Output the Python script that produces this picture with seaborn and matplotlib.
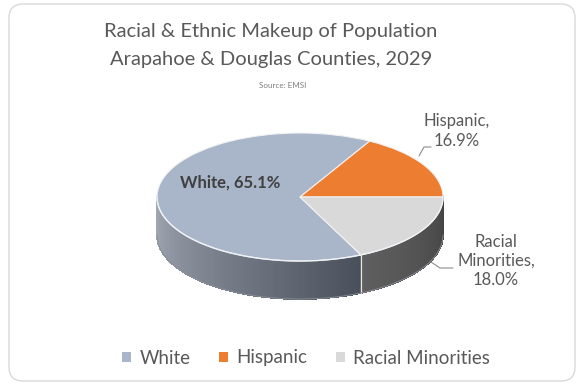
import numpy as np
import matplotlib
matplotlib.use("Agg")
import matplotlib.pyplot as plt
import matplotlib.colors as mcolors
from matplotlib.patches import FancyBboxPatch
from matplotlib.collections import PolyCollection
from matplotlib.transforms import IdentityTransform
import seaborn as sns

# ---- data -------------------------------------------------------------
categories = ["White", "Hispanic", "Racial Minorities"]
shares = [65.1, 16.9, 18.0]
top_colors = ["#A9B5C8", "#ED7D31", "#D9D9D9"]
side_colors = [("#A4ABB7", "#4A505B"), ("#B85C20", "#9A4914"), ("#5F5F5F", "#454545")]
title_lines = ["Racial & Ethnic Makeup of Population",
               "Arapahoe & Douglas Counties, 2029"]
source_note = "Source: EMSI"

# ---- figure -----------------------------------------------------------
W, H = 582, 387
sns.set_theme(style="white")
plt.rcParams["font.family"] = ["Lato", "DejaVu Sans"]

fig = plt.figure(figsize=(W / 100, H / 100), dpi=100)
fig.patch.set_facecolor("white")


def fpos(x, y):
    """pixel position (from top-left) -> figure fraction"""
    return x / W, 1 - y / H


# rounded card outline, kept underneath everything else
card = FancyBboxPatch((9, H - 381), 566, 377,
                      boxstyle="round,pad=0,rounding_size=14",
                      transform=IdentityTransform(), facecolor="white",
                      edgecolor="#D9D9D9", linewidth=1.0, zorder=-5)
fig.add_artist(card)

# ---- titles -----------------------------------------------------------
grey = "#595959"
fig.text(*fpos(271, 32), title_lines[0], ha="center", va="center",
         fontsize=14.5, color=grey)
fig.text(*fpos(271, 60), title_lines[1], ha="center", va="center",
         fontsize=14.5, color=grey)
fig.text(*fpos(283, 86), source_note, ha="center", va="center",
         fontsize=5.8, color="#7F7F7F")

# ---- tilted pie ---------------------------------------------------------
cx, cy, rx, ry = 300, 197, 143, 64          # ellipse centre/radii in pixels
depth = 38 / ry                              # extrusion height in data units

ax = fig.add_axes([0, 0, 1, 1])
ax.patch.set_alpha(0)
total = sum(shares)
start = -360 * shares[-1] / total
wedges, _ = ax.pie(shares, colors=top_colors, startangle=start,
                   counterclock=False, radius=1.0,
                   wedgeprops=dict(edgecolor="#F2F2F2", linewidth=0.8, zorder=3))
ax.set_aspect("auto")
ax.set_xlim(-cx / rx, (W - cx) / rx)
ax.set_ylim(-(H - cy) / ry, cy / ry)
ax.axis("off")

# side wall: only the front half (180..360 deg) is visible
for wedge, (c_left, c_right) in zip(wedges, side_colors):
    t1, t2 = wedge.theta1, wedge.theta2
    while t1 < 0:
        t1 += 360
        t2 += 360
    a, b = max(t1, 180), min(t2, 360)
    if b <= a:
        continue
    angles = np.radians(np.linspace(a, b, 120))
    c0 = np.array(mcolors.to_rgb(c_left))
    c1 = np.array(mcolors.to_rgb(c_right))
    quads, cols = [], []
    for i in range(len(angles) - 1):
        th0, th1 = angles[i], angles[i + 1]
        f = i / (len(angles) - 2)
        quads.append([(np.cos(th0), np.sin(th0)), (np.cos(th1), np.sin(th1)),
                      (np.cos(th1), np.sin(th1) - depth),
                      (np.cos(th0), np.sin(th0) - depth)])
        cols.append(c0 * (1 - f) + c1 * f)
    ax.add_collection(PolyCollection(quads, facecolors=cols, edgecolors=cols,
                                     linewidths=0.6, antialiaseds=False, zorder=1))
    # light seam where slices meet on the wall
    for edge in (a, b):
        if 180 < edge < 360:
            e = np.radians(edge)
            ax.plot([np.cos(e), np.cos(e)], [np.sin(e), np.sin(e) - depth],
                    color="#E6E6E6", lw=0.8, zorder=2)

# soft outline of the wall and highlight along the rim
rim = np.radians(np.linspace(180, 360, 200))
ax.plot(np.cos(rim), np.sin(rim) - depth, color="#8A8F98", lw=0.6, zorder=2)
ax.plot(np.cos(rim), np.sin(rim), color="#EEF1F5", lw=1.0, zorder=4)

# ---- data labels --------------------------------------------------------
fig.text(*fpos(230, 183), f"{categories[0]}, {shares[0]:.1f}%",
         ha="center", va="center", fontsize=12, fontweight="bold",
         color="#404040")
fig.text(*fpos(457, 131), f"{categories[1]},\n{shares[1]:.1f}%",
         ha="center", va="center", fontsize=12, color=grey, linespacing=1.3)
fig.text(*fpos(496, 261), "Racial\nMinorities,\n" + f"{shares[2]:.1f}%",
         ha="center", va="center", fontsize=12, color=grey, linespacing=1.25)

leader = dict(color="#8C8C8C", lw=0.8, transform=IdentityTransform())
fig.add_artist(plt.Line2D([431, 424, 419], [H - 147, H - 147, H - 156], **leader))
fig.add_artist(plt.Line2D([453, 440, 431], [H - 268, H - 268, H - 262], **leader))

# ---- legend -------------------------------------------------------------
leg = fig.legend(wedges, categories, loc="center", bbox_to_anchor=fpos(306, 358),
                 ncol=3, frameon=False, handlelength=0.5, handleheight=0.5,
                 columnspacing=1.5, handletextpad=0.45, fontsize=13.5,
                 labelcolor=grey)
for h in leg.legend_handles:
    h.set_edgecolor("none")

fig.savefig("out.png", dpi=100, facecolor="white")
